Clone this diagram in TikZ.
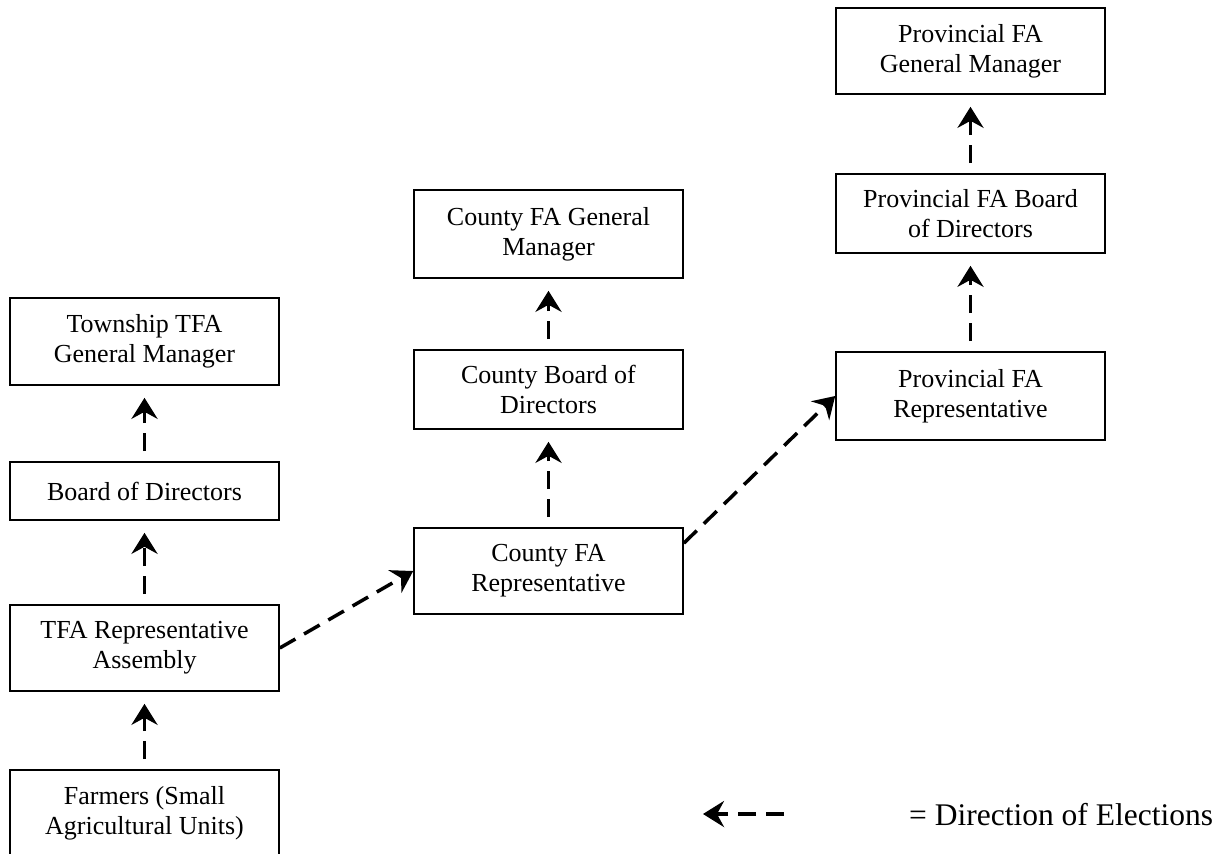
\documentclass[tikz,border=0pt]{standalone}
\usepackage{fontspec}
\setmainfont{Liberation Serif}
\usetikzlibrary{arrows.meta, calc, positioning}
\tikzset{
    officebox/.style={draw, line width=1.6pt, minimum width=269pt, inner sep=0pt, align=center, font=\fontsize{26}{30}\selectfont},
    vote/.style={line width=3.5pt, dash pattern=on 18pt off 10pt, -{Stealth[length=21pt, width=26pt, inset=7pt]}, shorten <=10pt, shorten >=12pt}
}
\newcommand{\office}[5]{
    \node[officebox, minimum height=#4] (#1) at (#2, #3) {#5};
}
\begin{document}
\begin{tikzpicture}[x=1pt, y=-1pt]
                    \useasboundingbox (0, 0) rectangle (1219, 854);
                    \office{farmers}{144.5}{813}{86pt}{Farmers (Small\\Agricultural Units)}
                    \office{tfarep}{144.5}{648}{86pt}{TFA Representative\\Assembly}
                    \office{tboard}{144.5}{491}{58pt}{Board of Directors}
                    \office{tgm}{144.5}{341.5}{87pt}{Township TFA\\General Manager}
                    \office{crep}{548.5}{571}{86pt}{County FA\\Representative}
                    \office{cboard}{548.5}{389.5}{79pt}{County Board of\\Directors}
                    \office{cgm}{548.5}{234}{88pt}{County FA General\\Manager}
                    \office{prep}{970.5}{396}{88pt}{Provincial FA\\Representative}
                    \office{pboard}{970.5}{213.5}{79pt}{Provincial FA Board\\of Directors}
                    \office{pgm}{970.5}{51}{86pt}{Provincial FA\\General Manager}
                    \coordinate (ltail) at (784, 814);
                    \coordinate (lhead) at (703, 814);
                    \node[anchor=west, inner sep=0pt, font=\fontsize{31.5}{36}\selectfont] (legend) at (909, 815) {= Direction of Elections};
                    \path[vote]
                    (farmers) edge (tfarep)
                    (tfarep) edge (tboard)
                    (tboard) edge (tgm)
                    (crep) edge (cboard)
                    (cboard) edge (cgm)
                    (prep) edge (pboard)
                    (pboard) edge (pgm)
                    (tfarep.east) edge[shorten <=0pt, shorten >=0pt] (crep.west)
                    ($(crep.north east) + (0, 16)$) edge[shorten <=0pt, shorten >=0pt] (prep.west)
                    (ltail) edge[shorten <=0pt, shorten >=0pt] (lhead);
                \end{tikzpicture}
\end{document}
